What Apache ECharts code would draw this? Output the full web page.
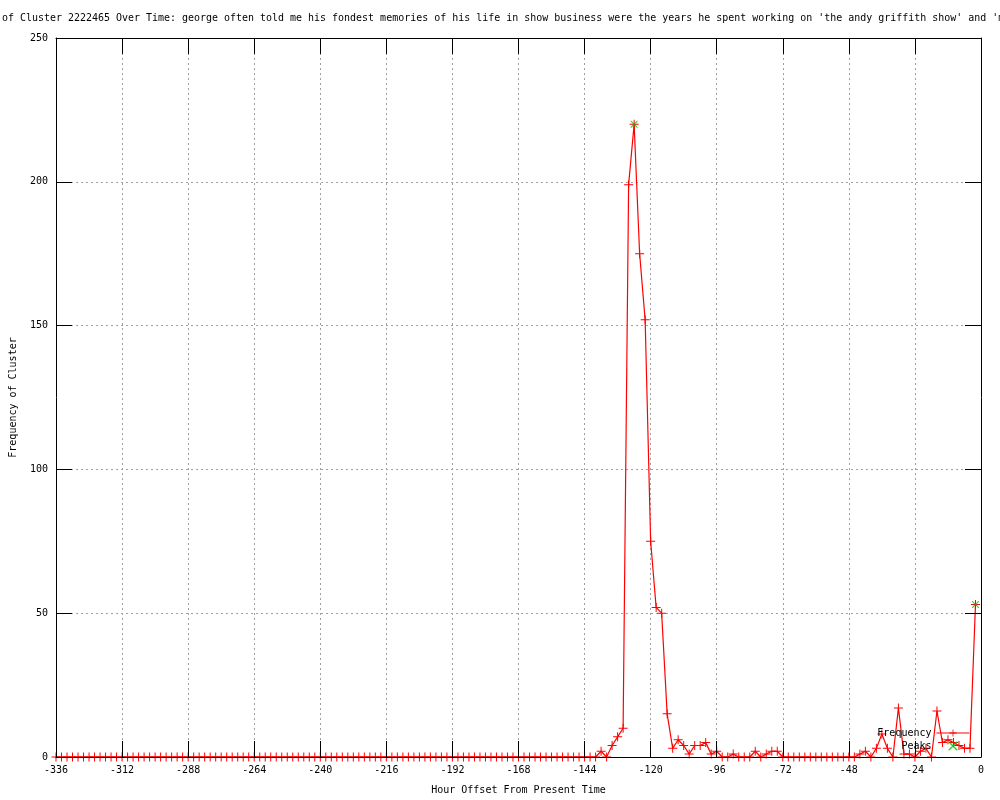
<!DOCTYPE html>
<html><head><meta charset="utf-8">
<script src="https://cdn.jsdelivr.net/npm/echarts@6/dist/echarts.min.js"></script>
<style>html,body{margin:0;padding:0;background:#fff}#c{width:1000px;height:800px}</style>
</head><body><div id="c"></div>
<script>
const titleText = "Frequency of Cluster 2222465 Over Time: george often told me his fondest memories of his life in show business were the years he spent working on 'the andy griffith show' and 'mayberry r.f.d.'";
const xAxisTitle = "Hour Offset From Present Time";
const yAxisTitle = "Frequency of Cluster";
const seriesNames = ["Frequency", "Peaks"];

const hours = [
  -336,-334,-332,-330,-328,-326,-324,-322,-320,-318,-316,-314,
  -312,-310,-308,-306,-304,-302,-300,-298,-296,-294,-292,-290,
  -288,-286,-284,-282,-280,-278,-276,-274,-272,-270,-268,-266,
  -264,-262,-260,-258,-256,-254,-252,-250,-248,-246,-244,-242,
  -240,-238,-236,-234,-232,-230,-228,-226,-224,-222,-220,-218,
  -216,-214,-212,-210,-208,-206,-204,-202,-200,-198,-196,-194,
  -192,-190,-188,-186,-184,-182,-180,-178,-176,-174,-172,-170,
  -168,-166,-164,-162,-160,-158,-156,-154,-152,-150,-148,-146,
  -144,-142,-140,-138,-136,-134,-132,-130,-128,-126,-124,-122,
  -120,-118,-116,-114,-112,-110,-108,-106,-104,-102,-100,-98,
  -96,-94,-92,-90,-88,-86,-84,-82,-80,-78,-76,-74,
  -72,-70,-68,-66,-64,-62,-60,-58,-56,-54,-52,-50,
  -48,-46,-44,-42,-40,-38,-36,-34,-32,-30,-28,-26,
  -24,-22,-20,-18,-16,-14,-12,-10,-8,-6,-4,-2
];
const freq = [
  0,0,0,0,0,0,0,0,0,0,0,0,
  0,0,0,0,0,0,0,0,0,0,0,0,
  0,0,0,0,0,0,0,0,0,0,0,0,
  0,0,0,0,0,0,0,0,0,0,0,0,
  0,0,0,0,0,0,0,0,0,0,0,0,
  0,0,0,0,0,0,0,0,0,0,0,0,
  0,0,0,0,0,0,0,0,0,0,0,0,
  0,0,0,0,0,0,0,0,0,0,0,0,
  0,0,0,2,0,4,7,10,199,220,175,152,
  75,52,50,15,3,6,4,1,4,4,5,1,
  2,0,0,1,0,0,0,2,0,1,2,2,
  0,0,0,0,0,0,0,0,0,0,0,0,
  0,0,1,2,0,3,8,3,0,17,1,1,
  0,2,3,0,16,5,6,5,4,3,3,53
];
const peakHours = [-126, -2];
const peakValues = [220, 53];

const xMin = -336, xMax = 0, xStep = 24;
const yMin = 0, yMax = 250, yStep = 50;

const FONT = "'DejaVu Sans Mono', monospace";
const PLUS = 'path://M0,4H9V5H0Z M4,0H5V9H4Z';
const CROSS = 'path://M0,0L1,0L9,8L9,9L8,9L0,1Z M8,0L9,0L9,1L1,9L0,9L0,8Z';

const chart = echarts.init(document.getElementById('c'), null, {renderer: 'canvas'});

const borderAxisX = (pos, labels) => ({
  type: 'value', min: xMin, max: xMax, interval: xStep, position: pos, z: 5,
  gridIndex: 0,
  axisLine: {show: true, onZero: false, lineStyle: {color: '#000', width: 1}},
  axisTick: {show: true, inside: true, length: 16, lineStyle: {color: '#000', width: 1}},
  axisLabel: labels ? {show: true, margin: 8, color: '#000', fontFamily: FONT, fontSize: 10} : {show: false},
  splitLine: {show: false}
});
const borderAxisY = (pos, labels) => ({
  type: 'value', min: yMin, max: yMax, interval: yStep, position: pos, z: 5,
  gridIndex: 0,
  axisLine: {show: true, onZero: false, lineStyle: {color: '#000', width: 1}},
  axisTick: {show: true, inside: true, length: 16, lineStyle: {color: '#000', width: 1}},
  axisLabel: labels ? {show: true, margin: 8, color: '#000', fontFamily: FONT, fontSize: 10} : {show: false},
  splitLine: {show: false}
});
const gridLines = {show: true, lineStyle: {color: '#a0a0a0', width: 1, type: [2, 3]}};

const xMain = borderAxisX('bottom', true);
xMain.name = xAxisTitle;
xMain.nameLocation = 'middle';
xMain.nameGap = 28;
xMain.nameTextStyle = {color: '#000', fontFamily: FONT, fontSize: 10};

const yMain = borderAxisY('left', true);
yMain.name = yAxisTitle;
yMain.nameLocation = 'middle';
yMain.nameRotate = 90;
yMain.nameGap = 38;
yMain.nameTextStyle = {color: '#000', fontFamily: FONT, fontSize: 10};

chart.setOption({
  animation: false,
  backgroundColor: '#fff',
  title: {
    text: titleText, left: -58, top: 13, padding: 0,
    textStyle: {color: '#000', fontFamily: FONT, fontSize: 9.97, fontWeight: 'normal'}
  },
  grid: {left: 56, right: 19, top: 38, bottom: 40, containLabel: false, show: false},
  legend: {
    orient: 'vertical', right: 30, top: 727, align: 'right', padding: 0,
    itemWidth: 33, itemHeight: 9, itemGap: 1,
    lineStyle: {width: 1},
    textStyle: {color: '#000', fontFamily: FONT, fontSize: 10, lineHeight: 12},
    data: seriesNames
  },
  xAxis: [
    xMain,
    borderAxisX('top', false),
    {type: 'value', min: xMin, max: xMax, interval: xStep, position: 'bottom', z: 0,
     axisLine: {show: false}, axisTick: {show: false}, axisLabel: {show: false}, splitLine: gridLines}
  ],
  yAxis: [
    yMain,
    borderAxisY('right', false),
    {type: 'value', min: yMin, max: yMax, interval: yStep, position: 'left', z: 0,
     axisLine: {show: false}, axisTick: {show: false}, axisLabel: {show: false}, splitLine: gridLines}
  ],
  series: [
    {
      name: seriesNames[0], type: 'line', xAxisIndex: 0, yAxisIndex: 0, z: 3,
      data: hours.map((h, i) => [h, freq[i]]),
      symbol: PLUS, symbolSize: 9, showAllSymbol: true,
      itemStyle: {color: '#ff0000'},
      lineStyle: {color: '#ff0000', width: 1.2},
      emphasis: {disabled: true}
    },
    {
      name: seriesNames[1], type: 'scatter', xAxisIndex: 0, yAxisIndex: 0, z: 4,
      data: peakHours.map((h, i) => [h, peakValues[i]]),
      symbol: CROSS, symbolSize: 7,
      itemStyle: {color: '#00c000'},
      emphasis: {disabled: true}
    }
  ]
});
</script>
</body></html>
